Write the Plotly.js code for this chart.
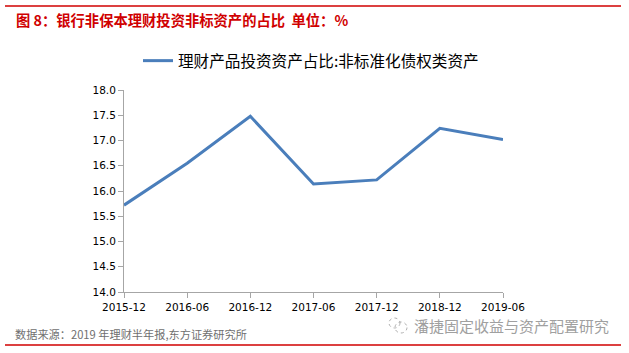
<!DOCTYPE html>
<html>
<head>
<meta charset="utf-8">
<script src="https://cdn.plot.ly/plotly-3.0.1.min.js"></script>
<style>html,body{margin:0;padding:0;background:#fff;}#chart{width:629px;height:353px;}</style>
</head>
<body>
<div id="chart"></div>
<script>
const categories = ["2015-12","2016-06","2016-12","2017-06","2017-12","2018-12","2019-06"];
const shareValues = [15.72, 16.55, 17.48, 16.14, 16.22, 17.24, 17.02];
const seriesName = "理财产品投资资产占比:非标准化债权类资产";
const yTicks = [14.0,14.5,15.0,15.5,16.0,16.5,17.0,17.5,18.0];
const titleText = "图 8：银行非保本理财投资非标资产的占比  单位：%";
const sourceText = "数据来源：2019 年理财半年报,东方证券研究所";
const watermarkText = "潘捷固定收益与资产配置研究";

const L = 124, R = 503, T = 90, B = 292;
const W = 629, H = 353;
const px = x => (x - L) / (R - L);
const py = y => (B - y) / (B - T);

const cjk = '"Noto Sans CJK SC", "Noto Sans", sans-serif';
const num = '"DejaVu Sans", sans-serif';

const trace = {
  x: categories, y: shareValues, type: 'scatter', mode: 'lines',
  name: seriesName,
  line: {color: '#4a7ebb', width: 3},
  showlegend: true
};

const layout = {
  width: W, height: H,
  margin: {l: L, r: W - R, t: T, b: H - B, pad: 0},
  paper_bgcolor: '#fff', plot_bgcolor: '#fff',
  showlegend: true,
  legend: {x: px(138), y: py(44), xanchor: 'left', yanchor: 'top', orientation: 'h',
    font: {family: cjk, size: 15.6, color: '#000'}, itemwidth: 30, bgcolor: 'rgba(0,0,0,0)', tracegroupgap: 0},
  xaxis: {
    type: 'category', range: [0, categories.length - 1],
    showgrid: false, zeroline: false,
    showline: true, linecolor: '#a6a6a6', linewidth: 1,
    ticks: 'outside', ticklen: 5, tickcolor: '#a6a6a6', tickwidth: 1,
    tickfont: {family: num, size: 10.5, color: '#000'},
    fixedrange: true
  },
  yaxis: {
    range: [14, 18], tickvals: yTicks, ticktext: yTicks.map(v => v.toFixed(1)),
    showgrid: false, zeroline: false,
    showline: true, linecolor: '#a6a6a6', linewidth: 1,
    ticks: 'outside', ticklen: 5, tickcolor: '#a6a6a6', tickwidth: 1,
    tickfont: {family: num, size: 10.5, color: '#000'},
    fixedrange: true
  },
  shapes: [
    {type: 'line', xref: 'paper', yref: 'paper', x0: px(5), x1: px(621), y0: py(6), y1: py(6), line: {color: '#d00000', width: 1.5}},
    {type: 'line', xref: 'paper', yref: 'paper', x0: px(5), x1: px(621), y0: py(345), y1: py(345), line: {color: '#d00000', width: 1.5}},
    {type: 'circle', xref: 'paper', yref: 'paper', x0: px(389), x1: px(400), y0: py(318), y1: py(328), line: {color: '#b0b0b0', width: 1, dash: 'dot'}},
    {type: 'circle', xref: 'paper', yref: 'paper', x0: px(395), x1: px(407), y0: py(322), y1: py(333), line: {color: '#b0b0b0', width: 1, dash: 'dot'}}
  ],
  annotations: [
    {text: '<b>' + titleText + '</b>', xref: 'paper', yref: 'paper', x: px(14), y: py(20), xanchor: 'left', yanchor: 'middle', showarrow: false,
      font: {family: cjk, size: 14.3, color: '#d00000'}},
    {text: sourceText, xref: 'paper', yref: 'paper', x: px(13), y: py(334), xanchor: 'left', yanchor: 'middle', showarrow: false,
      font: {family: cjk, size: 11.2, color: '#707070'}},
    {text: watermarkText, xref: 'paper', yref: 'paper', x: px(412), y: py(325), xanchor: 'left', yanchor: 'middle', showarrow: false,
      font: {family: cjk, size: 15, color: '#a0a0a0'}}
  ]
};

Plotly.newPlot('chart', [trace], layout, {displayModeBar: false, staticPlot: true});
</script>
</body>
</html>
